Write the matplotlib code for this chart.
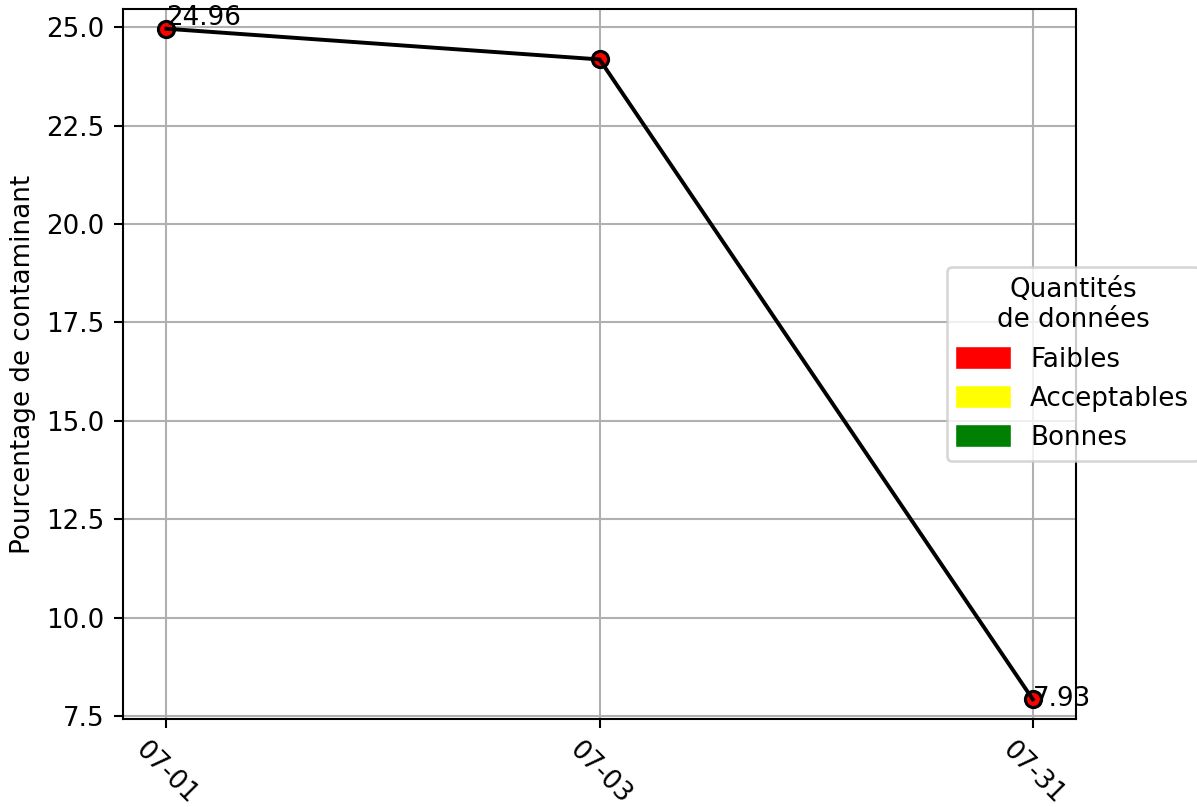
import matplotlib.pyplot as plt
from matplotlib.patches import Patch

dates = ["07-01", "07-03", "07-31"]
valeurs = [24.96, 24.18, 7.93]
etiquettes = [True, False, True]

legende_noms = ["Faibles", "Acceptables", "Bonnes"]
legende_couleurs = ["red", "yellow", "green"]

dpi = 188
fig = plt.figure(figsize=(1197 / dpi, 807 / dpi), dpi=dpi)
ax = fig.add_axes([0.1028, 0.109, 0.7962, 0.8798])

x = range(len(dates))
ax.plot(x, valeurs, color="black", linewidth=1.5, zorder=3)
ax.scatter(x, valeurs, s=38, color="red", edgecolors="black", linewidths=1.2, zorder=2)

# petit décalage vertical des étiquettes, comme sur l'original
decalages = {0: 1.5, 2: -2.7}
for i, v in enumerate(valeurs):
    if etiquettes[i]:
        ax.annotate(f"{v:.2f}", (i, v), xytext=(0, decalages.get(i, 0)),
                    textcoords="offset points", fontsize=10, zorder=4)

ax.set_xticks(list(x))
ax.set_xticklabels(dates, rotation=-45)
ax.set_ylim(min(valeurs) - 0.5, max(valeurs) + 0.5)
ax.set_ylabel("Pourcentage de contaminant")
ax.grid(True)

handles = [Patch(color=c, label=n) for c, n in zip(legende_couleurs, legende_noms)]
leg = ax.legend(handles=handles, title="Quantités\nde données", loc="center left",
                bbox_to_anchor=(0.8505, 0.5), fontsize=10, title_fontsize=10)
leg.get_title().set_multialignment("center")

fig.savefig("out.png", dpi=dpi)
